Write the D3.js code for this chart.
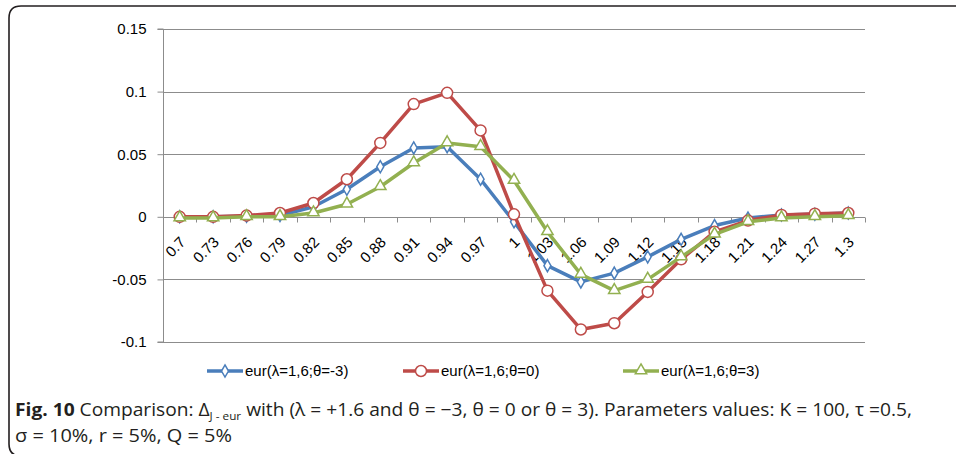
<!DOCTYPE html>
<html>
<head>
<meta charset="utf-8">
<script src="https://cdn.jsdelivr.net/npm/d3@7"></script>
<style>
  body { margin: 0; background: #fff; }
  svg { display: block; }
</style>
</head>
<body>
<div id="chart"></div>
<script>
// data
var categories = ["0.7","0.73","0.76","0.79","0.82","0.85","0.88","0.91","0.94","0.97",
  "1","1.03","1.06","1.09","1.12","1.15","1.18","1.21","1.24","1.27","1.3"];

var thetaMinus3 = [0, 0, 0.0005, 0.001, 0.008, 0.022, 0.04, 0.055, 0.056, 0.030,
  -0.004, -0.039, -0.052, -0.045, -0.032, -0.018, -0.007, -0.001, 0.0015, 0.002, 0.003];
var thetaZero = [0, 0, 0.001, 0.003, 0.011, 0.030, 0.059, 0.090, 0.099, 0.069,
  0.002, -0.059, -0.090, -0.085, -0.060, -0.034, -0.012, -0.003, 0.0015, 0.0025, 0.003];
var thetaPlus3 = [-0.001, -0.001, 0, 0, 0.003, 0.010, 0.024, 0.043, 0.059, 0.056,
  0.029, -0.012, -0.046, -0.059, -0.050, -0.032, -0.014, -0.004, -0.001, 0, 0.0008];

var seriesNames = ["eur(λ=1,6;θ=-3)", "eur(λ=1,6;θ=0)", "eur(λ=1,6;θ=3)"];
var yTicks = [-0.1, -0.05, 0, 0.05, 0.1, 0.15];

var width = 956, height = 454;
var fontChart = '"Liberation Sans", Arial, sans-serif';

var series = [
  {name: seriesNames[0], values: thetaMinus3, color: "#4A7EBB", marker: "diamond", lx: 207},
  {name: seriesNames[1], values: thetaZero, color: "#BE4B48", marker: "circle", lx: 403},
  {name: seriesNames[2], values: thetaPlus3, color: "#92B050", marker: "triangle", lx: 623}
];

var svg = d3.select('#chart').append('svg')
  .attr('width', width)
  .attr('height', height);

// frame
svg.append('path')
  .attr('d', 'M960,6 H21 Q9,6 9,18 V444 Q9,456 21,456 H960')
  .attr('fill', 'none')
  .attr('stroke', '#231f20')
  .attr('stroke-width', 1.6);

var x = d3.scaleBand().domain(categories).range([163, 865]).paddingInner(0).paddingOuter(0);
var y = d3.scaleLinear().domain([-0.1, 0.15]).range([342, 29]);
var cx = function(c) { return x(c) + x.bandwidth() / 2; };

// gridlines
svg.append('g').selectAll('line')
  .data(yTicks)
  .enter().append('line')
  .attr('x1', 163).attr('x2', 865)
  .attr('y1', function(d) { return Math.round(y(d)) + 0.5; })
  .attr('y2', function(d) { return Math.round(y(d)) + 0.5; })
  .attr('stroke', '#8c8c8c').attr('stroke-width', 1);

// y axis
var yAxis = svg.append('g')
  .attr('transform', 'translate(163.5,0)')
  .call(d3.axisLeft(y).tickValues(yTicks).tickSize(6).tickPadding(11)
    .tickFormat(function(d) { return String(+d.toFixed(2)); }));
yAxis.selectAll('path, line').attr('stroke', '#8c8c8c');
yAxis.select('.domain').attr('d', 'M-6,' + y(0.15) + 'H0V' + y(-0.1) + 'H-6');
yAxis.selectAll('text').attr('font-size', 15).attr('font-family', fontChart).attr('fill', '#000');

// x axis on zero line, ticks at category boundaries
var x0 = Math.round(y(0)) + 0.5;
svg.append('line').attr('x1', 163).attr('x2', 865).attr('y1', x0).attr('y2', x0)
  .attr('stroke', '#8c8c8c');
var bounds = categories.map(function(c) { return x(c); }).concat([865]);
svg.append('g').selectAll('line')
  .data(bounds)
  .enter().append('line')
  .attr('x1', function(d) { return Math.round(d) + 0.5; })
  .attr('x2', function(d) { return Math.round(d) + 0.5; })
  .attr('y1', x0).attr('y2', x0 + 5)
  .attr('stroke', '#8c8c8c');

svg.append('g').selectAll('text')
  .data(categories)
  .enter().append('text')
  .attr('font-family', fontChart)
  .attr('font-size', 15)
  .attr('text-anchor', 'end')
  .attr('transform', function(d) { return 'translate(' + (cx(d) + 3) + ',' + (x0 + 22) + ') rotate(-45)'; })
  .attr('dy', '0.35em')
  .text(function(d) { return d; });

// series
var line = d3.line()
  .x(function(d, i) { return cx(categories[i]); })
  .y(function(d) { return y(d); });

function drawMarker(g, type, color, px, py) {
  if (type == 'circle') {
    g.append('circle').attr('cx', px).attr('cy', py).attr('r', 5.5)
      .attr('fill', '#fff').attr('stroke', color).attr('stroke-width', 1.5);
  } else {
    var sym = type == 'diamond' ? d3.symbolDiamond : d3.symbolTriangle;
    var size = type == 'diamond' ? 42 : 56;
    g.append('path').attr('d', d3.symbol().type(sym).size(size)())
      .attr('transform', 'translate(' + px + ',' + (type == 'triangle' ? py - 0.5 : py) + ')')
      .attr('fill', '#fff').attr('stroke', color).attr('stroke-width', 1.5);
  }
}

series.forEach(function(s) {
  var g = svg.append('g');
  g.append('path')
    .datum(s.values)
    .attr('d', line)
    .attr('fill', 'none')
    .attr('stroke', s.color)
    .attr('stroke-width', 3.5)
    .attr('stroke-linejoin', 'round');
  s.values.forEach(function(v, i) {
    drawMarker(g, s.marker, s.color, cx(categories[i]), y(v));
  });
});

// legend
series.forEach(function(s) {
  var g = svg.append('g');
  var ly = 371;
  g.append('line').attr('x1', s.lx).attr('x2', s.lx + 36).attr('y1', ly).attr('y2', ly)
    .attr('stroke', s.color).attr('stroke-width', 3.5);
  drawMarker(g, s.marker, s.color, s.lx + 18, ly);
  g.append('text')
    .attr('x', s.lx + 38).attr('y', ly)
    .attr('dy', '0.35em')
    .attr('font-family', fontChart)
    .attr('font-size', 15)
    .text(s.name);
});

// caption
var cap = svg.append('text')
  .attr('x', 15).attr('y', 416)
  .attr('font-family', '"Open Sans", sans-serif')
  .attr('font-size', 18)
  .attr('fill', '#231f20')
  .attr('textLength', 897)
  .attr('lengthAdjust', 'spacingAndGlyphs');
cap.append('tspan').attr('font-weight', 'bold').text('Fig. 10');
cap.append('tspan').text(' Comparison: Δ');
cap.append('tspan').attr('font-size', 11).attr('dy', 4).text('J - eur');
cap.append('tspan').attr('dy', -4).text(' with (λ = +1.6 and θ = −3, θ = 0 or θ = 3). Parameters values: K = 100, τ =0.5,');

svg.append('text')
  .attr('x', 15).attr('y', 442)
  .attr('font-family', '"Open Sans", sans-serif')
  .attr('font-size', 18)
  .attr('fill', '#231f20')
  .attr('textLength', 217)
  .attr('lengthAdjust', 'spacingAndGlyphs')
  .text('σ = 10%, r = 5%, Q = 5%');
</script>
</body>
</html>
